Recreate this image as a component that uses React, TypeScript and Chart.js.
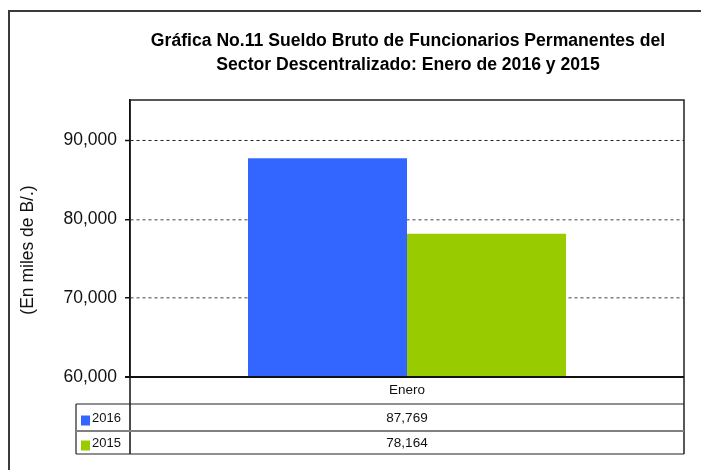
import React, { useEffect, useRef } from "react";
import { Chart, registerables } from "chart.js";

Chart.register(...registerables);

const categories = ["Enero"];
const seriesNames = ["2016", "2015"];
const values2016 = [87769];
const values2015 = [78164];
const yTicks = [60000, 70000, 80000, 90000];
const titleLines = [
  "Gráfica No.11 Sueldo Bruto de Funcionarios Permanentes del",
  "Sector Descentralizado: Enero de 2016 y 2015",
];
const yAxisTitle = "(En miles de B/.)";
const seriesColors = ["#3366FF", "#99CC00"];

const FONT = '"Liberation Sans", Arial, Helvetica, sans-serif';
const fmt = (v: number) => v.toLocaleString("en-US");

const decorPlugin = {
  id: "decor",
  afterDraw(chart: any) {
    const ctx = chart.ctx as CanvasRenderingContext2D;
    const a = chart.chartArea;
    const cx = chart.scales.x.getPixelForTick(0);
    ctx.save();

    // outer frame (top and left only visible)
    ctx.strokeStyle = "#3a3a3a";
    ctx.lineWidth = 2;
    ctx.beginPath();
    ctx.moveTo(9, 470);
    ctx.lineTo(9, 11);
    ctx.lineTo(701, 11);
    ctx.stroke();

    // title
    ctx.fillStyle = "#000";
    ctx.textAlign = "center";
    ctx.textBaseline = "alphabetic";
    ctx.font = `bold 17.6px ${FONT}`;
    ctx.fillText(titleLines[0], (a.left + a.right) / 2 + 1, 46);
    ctx.fillText(titleLines[1], (a.left + a.right) / 2 + 1, 70);

    // y axis title
    ctx.save();
    ctx.translate(28.5, 250);
    ctx.rotate(-Math.PI / 2);
    ctx.font = `17.5px ${FONT}`;
    ctx.textBaseline = "middle";
    ctx.fillStyle = "#111";
    ctx.fillText(yAxisTitle, 0, 0);
    ctx.restore();

    // data table geometry
    const left = a.left;
    const right = a.right;
    const top = a.bottom;
    const hdrBottom = top + 27;
    const row1Bottom = hdrBottom + 27;
    const row2Bottom = row1Bottom + 23;
    const legLeft = 76;

    // plot box top + right border
    ctx.strokeStyle = "#222";
    ctx.lineWidth = 1.5;
    ctx.beginPath();
    ctx.moveTo(left, a.top);
    ctx.lineTo(right, a.top);
    ctx.lineTo(right, row2Bottom);
    ctx.stroke();

    // x axis line
    ctx.strokeStyle = "#111";
    ctx.lineWidth = 2;
    ctx.beginPath();
    ctx.moveTo(left - 5, top);
    ctx.lineTo(right, top);
    ctx.stroke();

    // axis continuation into table
    ctx.lineWidth = 1.5;
    ctx.beginPath();
    ctx.moveTo(left, a.top);
    ctx.lineTo(left, row2Bottom);
    ctx.stroke();

    // table horizontal lines
    ctx.strokeStyle = "#222";
    ctx.lineWidth = 1.2;
    ctx.beginPath();
    ctx.moveTo(legLeft, hdrBottom);
    ctx.lineTo(right, hdrBottom);
    ctx.moveTo(legLeft, row2Bottom);
    ctx.lineTo(right, row2Bottom);
    ctx.moveTo(legLeft, hdrBottom);
    ctx.lineTo(legLeft, row2Bottom);
    ctx.stroke();

    ctx.strokeStyle = "#808080";
    ctx.lineWidth = 2;
    ctx.beginPath();
    ctx.moveTo(legLeft, row1Bottom);
    ctx.lineTo(right, row1Bottom);
    ctx.stroke();

    // texts
    ctx.fillStyle = "#111";
    ctx.textBaseline = "middle";
    ctx.textAlign = "center";
    ctx.font = `13.5px ${FONT}`;
    ctx.fillText(categories[0], cx, top + 13);
    const rows = [values2016, values2015];
    const rowMid = [(hdrBottom + row1Bottom) / 2 + 1, (row1Bottom + row2Bottom) / 2 + 1];
    rows.forEach((vals, i) => {
      ctx.textAlign = "center";
      ctx.font = `13.5px ${FONT}`;
      ctx.fillStyle = "#111";
      ctx.fillText(fmt(vals[0]), cx, rowMid[i]);
      // legend key
      ctx.fillStyle = seriesColors[i];
      ctx.fillRect(81, rowMid[i] - 3, 9, 10);
      ctx.fillStyle = "#111";
      ctx.textAlign = "left";
      ctx.font = `13px ${FONT}`;
      ctx.fillText(seriesNames[i], 92, rowMid[i]);
    });

    ctx.restore();
  },
};

export default function App() {
  const ref = useRef<HTMLCanvasElement | null>(null);

  useEffect(() => {
    document.body.style.margin = "0";
    const canvas = ref.current!;
    const chart = new Chart(canvas, {
      type: "bar",
      data: {
        labels: categories,
        datasets: [
          {
            label: seriesNames[0],
            data: values2016,
            backgroundColor: seriesColors[0],
            borderWidth: 0,
            categoryPercentage: 0.574,
            barPercentage: 1,
          },
          {
            label: seriesNames[1],
            data: values2015,
            backgroundColor: seriesColors[1],
            borderWidth: 0,
            categoryPercentage: 0.574,
            barPercentage: 1,
          },
        ],
      },
      options: {
        animation: false,
        responsive: false,
        devicePixelRatio: 1,
        layout: { padding: { left: 0, top: 100, right: 17, bottom: 93 } },
        plugins: {
          legend: { display: false },
          title: { display: false },
          tooltip: { enabled: false },
        },
        scales: {
          x: { display: false },
          y: {
            min: 60000,
            max: 95150,
            afterBuildTicks: (scale: any) => {
              scale.ticks = yTicks.map((v) => ({ value: v }));
            },
            afterFit: (scale: any) => {
              scale.width = 130;
            },
            ticks: {
              padding: 8,
              color: "#111",
              font: { family: FONT, size: 17.5 },
              callback: (v: any) => fmt(Number(v)),
            },
            grid: {
              color: (c: any) => (c.tick && c.tick.value === 90000 ? "#222" : "#808080"),
              lineWidth: (c: any) => (c.tick && c.tick.value === 90000 ? 1 : 1.5),
              tickLength: 5,
              tickColor: "#111",
              tickWidth: 1.5,
            },
            border: { display: true, color: "#111", width: 1.5, dash: [3, 3] },
          },
        },
      },
      plugins: [decorPlugin],
    } as any);
    return () => chart.destroy();
  }, []);

  return (
    <div style={{ position: "absolute", left: 0, top: 0, width: 701, height: 470, background: "#fff" }}>
      <canvas ref={ref} width={701} height={470} style={{ width: 701, height: 470 }} />
    </div>
  );
}
